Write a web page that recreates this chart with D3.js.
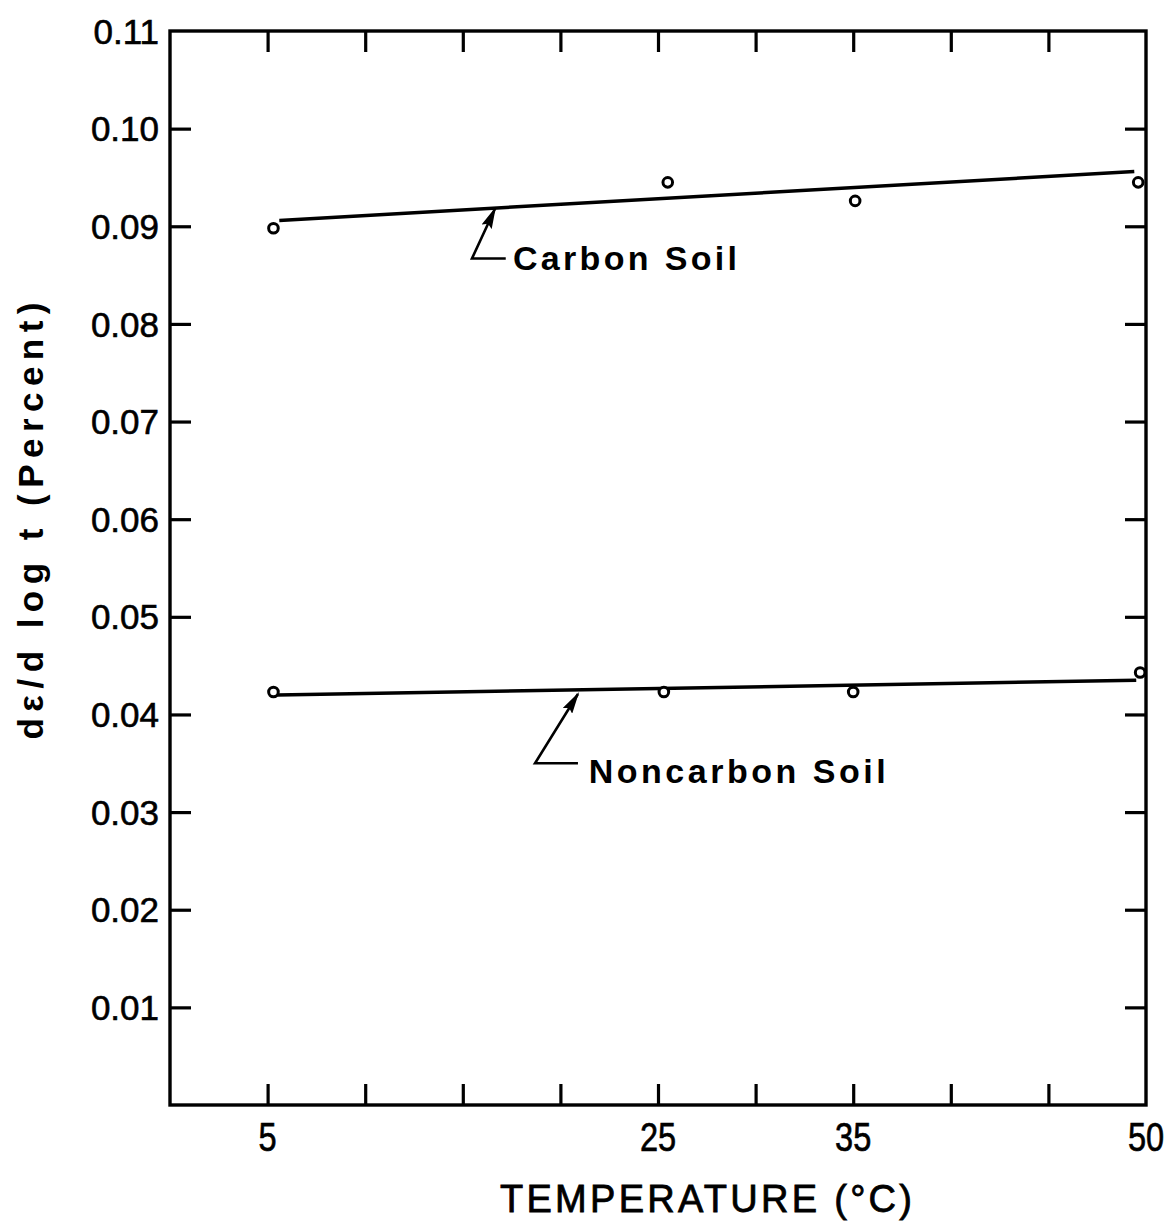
<!DOCTYPE html>
<html>
<head>
<meta charset="utf-8">
<script src="https://cdn.jsdelivr.net/npm/d3@7/dist/d3.min.js"></script>
<style>
  html, body { margin: 0; padding: 0; background: #fff; }
  svg { display: block; }
  text { font-family: "Liberation Sans", Arial, sans-serif; fill: #000; }
</style>
</head>
<body>
<svg id="chart" width="1171" height="1224"></svg>
<script>
// ---- data ----
const carbonTemps  = [5.3, 25.5, 35.1, 49.6];
const carbonValues = [0.0898, 0.0945, 0.0926, 0.0945];
const noncarbonTemps  = [5.3, 25.3, 35.0, 49.7];
const noncarbonValues = [0.0423, 0.0423, 0.0423, 0.0443];

// fitted lines (start / end)
const carbonLineTemps  = [5.6, 49.4];
const carbonLineValues = [0.0906, 0.0956];
const noncarbonLineTemps  = [5.5, 49.5];
const noncarbonLineValues = [0.0420, 0.0435];

const xTickValues = [5, 10, 15, 20, 25, 30, 35, 40, 45];
const xTickLabels = ["5", "25", "35", "50"];
const yTickValues = [0.01, 0.02, 0.03, 0.04, 0.05, 0.06, 0.07, 0.08, 0.09, 0.10, 0.11];
const yTickLabels = ["0.01", "0.02", "0.03", "0.04", "0.05", "0.06", "0.07", "0.08", "0.09", "0.10", "0.11"];

const xTitle = "TEMPERATURE (°C)";
const yTitle = "dε/d log t (Percent)";
const carbonLabel = "Carbon Soil";
const noncarbonLabel = "Noncarbon Soil";

// ---- scales ----
const x = d3.scaleLinear().domain([0, 50]).range([170, 1146]);
const y = d3.scaleLinear().domain([0, 0.11]).range([1105, 31]);

const svg = d3.select("#chart");
const stroke = "#000";

// frame
svg.append("rect")
  .attr("x", x(0)).attr("y", y(0.11))
  .attr("width", x(50) - x(0)).attr("height", y(0) - y(0.11))
  .attr("fill", "none").attr("stroke", stroke).attr("stroke-width", 3.4);

const tickLen = 21;
const axisStyle = g => {
  g.select(".domain").remove();
  g.selectAll(".tick line").attr("stroke", stroke).attr("stroke-width", 3.2);
};

// bottom axis (ticks pointing inward)
svg.append("g").attr("transform", `translate(0,${y(0)})`)
  .call(d3.axisBottom(x).tickValues(xTickValues).tickSizeInner(-tickLen).tickSizeOuter(0).tickFormat(""))
  .call(axisStyle);
// top axis
svg.append("g").attr("transform", `translate(0,${y(0.11)})`)
  .call(d3.axisTop(x).tickValues(xTickValues).tickSizeInner(-tickLen).tickSizeOuter(0).tickFormat(""))
  .call(axisStyle);
// left axis
svg.append("g").attr("transform", `translate(${x(0)},0)`)
  .call(d3.axisLeft(y).tickValues(yTickValues.slice(0, 10)).tickSizeInner(-tickLen).tickSizeOuter(0).tickFormat(""))
  .call(axisStyle);
// right axis
svg.append("g").attr("transform", `translate(${x(50)},0)`)
  .call(d3.axisRight(y).tickValues(yTickValues.slice(0, 10)).tickSizeInner(-tickLen).tickSizeOuter(0).tickFormat(""))
  .call(axisStyle);

// y tick labels
svg.append("g").selectAll("text")
  .data(yTickValues)
  .join("text")
  .attr("x", x(0) - 11)
  .attr("y", d => y(d))
  .attr("dy", "0.36em")
  .attr("text-anchor", "end")
  .attr("font-size", 35)
  .attr("stroke", "#000").attr("stroke-width", 0.6)
  .text((d, i) => yTickLabels[i]);

// x tick labels
svg.append("g").selectAll("text")
  .data(xTickLabels)
  .join("text")
  .attr("transform", d => `translate(${x(+d)},${y(0) + 46}) scale(0.88,1.12)`)
  .attr("text-anchor", "middle")
  .attr("font-size", 37)
  .attr("stroke", "#000").attr("stroke-width", 0.6)
  .text(d => d);

// axis titles
svg.append("text")
  .attr("x", 706).attr("y", 1212)
  .attr("text-anchor", "middle")
  .attr("font-size", 38)
  .attr("stroke", "#000").attr("stroke-width", 0.8)
  .attr("textLength", 412)
  .attr("lengthAdjust", "spacing")
  .text(xTitle);

svg.append("text")
  .attr("transform", "translate(43,521) rotate(-90)")
  .attr("text-anchor", "middle")
  .attr("font-size", 35)
  .attr("font-weight", "bold")
  .attr("textLength", 437)
  .attr("lengthAdjust", "spacing")
  .text(yTitle);

// fitted lines
const line = d3.line().x(d => x(d[0])).y(d => y(d[1]));
[[carbonLineTemps, carbonLineValues], [noncarbonLineTemps, noncarbonLineValues]].forEach(([ts, vs]) => {
  svg.append("path")
    .datum(ts.map((t, i) => [t, vs[i]]))
    .attr("d", line)
    .attr("fill", "none").attr("stroke", stroke).attr("stroke-width", 3.5);
});

// data points (open circles)
[[carbonTemps, carbonValues], [noncarbonTemps, noncarbonValues]].forEach(([ts, vs]) => {
  svg.append("g").selectAll("circle")
    .data(ts.map((t, i) => [t, vs[i]]))
    .join("circle")
    .attr("cx", d => x(d[0])).attr("cy", d => y(d[1]))
    .attr("r", 4.8)
    .attr("fill", "#fff").attr("stroke", stroke).attr("stroke-width", 3);
});

// annotation leaders with arrowheads
const defs = svg.append("defs");
defs.append("marker")
  .attr("id", "arrow")
  .attr("viewBox", "0 0 10 5")
  .attr("refX", 9).attr("refY", 2.5)
  .attr("markerWidth", 8.5).attr("markerHeight", 4.25)
  .attr("markerUnits", "strokeWidth")
  .attr("orient", "auto")
  .append("path").attr("d", "M0,0 L10,2.5 L0,5 L1.5,2.5 Z").attr("fill", stroke);

// Carbon: [horizontal end] -> corner -> tip
const carbonLeaderTemps  = [17.2, 15.47, 16.65];
const carbonLeaderValues = [0.0867, 0.0867, 0.0918];
const noncarbonLeaderTemps  = [20.9, 18.7, 20.9];
const noncarbonLeaderValues = [0.0350, 0.0350, 0.0421];

[[carbonLeaderTemps, carbonLeaderValues], [noncarbonLeaderTemps, noncarbonLeaderValues]].forEach(([ts, vs]) => {
  svg.append("path")
    .datum(ts.map((t, i) => [t, vs[i]]))
    .attr("d", line)
    .attr("fill", "none").attr("stroke", stroke).attr("stroke-width", 2.6)
    .attr("stroke-linejoin", "miter")
    .attr("marker-end", "url(#arrow)");
});

svg.append("text")
  .attr("x", x(17.57)).attr("y", y(0.0855))
  .attr("font-size", 34)
  .attr("font-weight", "bold")
  .attr("textLength", 224)
  .attr("lengthAdjust", "spacing")
  .text(carbonLabel);

svg.append("text")
  .attr("x", x(21.45)).attr("y", y(0.0330))
  .attr("font-size", 34)
  .attr("font-weight", "bold")
  .attr("textLength", 297)
  .attr("lengthAdjust", "spacing")
  .text(noncarbonLabel);
</script>
</body>
</html>
